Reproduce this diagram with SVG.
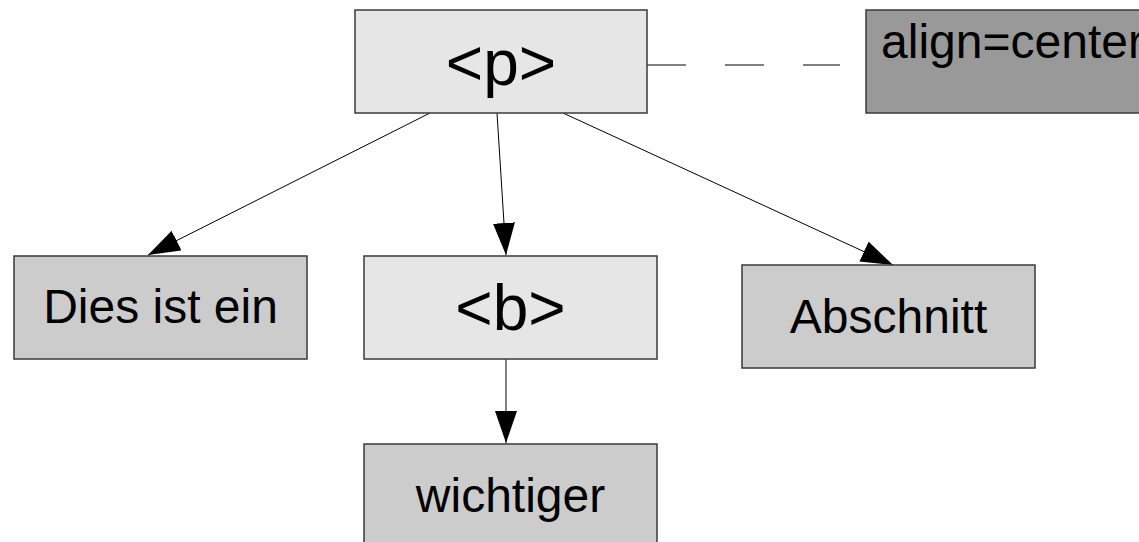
<svg xmlns="http://www.w3.org/2000/svg" width="1139" height="542" viewBox="0 0 1139 542">
<style>
.box{stroke:#3a3a3a;stroke-width:1.5}
.light{fill:#e6e6e6}
.mid{fill:#cccccc}
.dark{fill:#999999}
text{font-family:"Liberation Sans",Arial,sans-serif;fill:#000;text-anchor:middle}
.big{font-size:64px}
.norm{font-size:48px}
.edge{stroke:#000;stroke-width:1;fill:none}
</style>
<defs>
<marker id="arr" viewBox="0 0 32 22" markerWidth="32" markerHeight="22" refX="32" refY="11" orient="auto" markerUnits="userSpaceOnUse">
<path d="M0,0 L32,11 L0,22 z" fill="#000"/>
</marker>
</defs>
<rect width="1139" height="542" fill="#fff"/>
<g id="connectors">
<line class="edge" x1="430" y1="113" x2="148" y2="255" marker-end="url(#arr)"/>
<line class="edge" x1="497" y1="113" x2="506" y2="255" marker-end="url(#arr)"/>
<line class="edge" x1="563" y1="113" x2="893" y2="265" marker-end="url(#arr)"/>
<line class="edge" x1="506" y1="359" x2="506" y2="443" marker-end="url(#arr)"/>
<line class="edge" x1="647" y1="65" x2="840" y2="65" stroke-dasharray="39 39"/>
</g>
<g id="node-p">
<rect class="box light" x="355" y="10" width="292" height="103"/>
<text class="big" x="501" y="85">&lt;p&gt;</text>
</g>
<g id="node-align">
<rect class="box dark" x="866" y="10" width="293" height="103"/>
<text class="norm" x="1012.5" y="58">align=center</text>
</g>
<g id="node-dies">
<rect class="box mid" x="14" y="256" width="293" height="103"/>
<text class="norm" x="160.5" y="323">Dies ist ein</text>
</g>
<g id="node-b">
<rect class="box light" x="364" y="256" width="293" height="103"/>
<text class="big" x="510.5" y="330">&lt;b&gt;</text>
</g>
<g id="node-abschnitt">
<rect class="box mid" x="742" y="265" width="293" height="103"/>
<text class="norm" x="888.5" y="333">Abschnitt</text>
</g>
<g id="node-wichtiger">
<rect class="box mid" x="364" y="444" width="293" height="103"/>
<text class="norm" x="510.5" y="512">wichtiger</text>
</g>
</svg>
